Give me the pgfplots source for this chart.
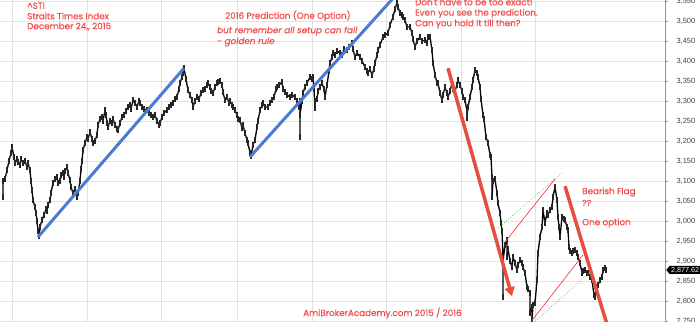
\documentclass[border=0pt]{standalone}
\usepackage{fontspec}
\setmainfont{Liberation Sans}
\newfontfamily\anno{Poppins}[FakeBold=0.35]
\usepackage{pgfplots}
\pgfplotsset{compat=1.18}
\usepackage{pgfplotstable}
\usetikzlibrary{arrows.meta,shapes.symbols,calc}
\definecolor{annored}{RGB}{240,76,76}
\definecolor{arrred}{RGB}{232,78,64}
\definecolor{trendblue}{RGB}{74,124,210}
\definecolor{gridc}{RGB}{226,226,226}
\definecolor{tickc}{RGB}{70,70,70}

\pgfplotstableread{
x y
3 3060
3 3100
5 3105
7 3127
9 3150
11 3170
12 3185
14 3160
15 3145
17 3155
18 3147
20 3140
21 3155
23 3145
25 3150
27 3135
28 3145
30 3127
31 3100
32 3077
33 3052
35 3035
36 3020
37 3000
38 2975
39 2962
40 2985
42 3002
44 3015
46 3030
47 3025
48 3040
50 3052
51 3070
53 3095
55 3105
57 3110
58 3095
60 3100
61 3115
63 3120
64 3110
65 3125
67 3135
68 3120
70 3102
71 3085
73 3070
75 3080
77 3060
78 3070
80 3100
81 3130
82 3150
83 3177
85 3195
87 3210
88 3205
90 3222
92 3205
93 3195
95 3200
97 3215
98 3240
100 3255
102 3260
103 3250
105 3277
106 3265
107 3245
108 3235
110 3250
112 3245
113 3255
115 3240
117 3230
118 3227
120 3245
122 3260
124 3265
126 3275
128 3285
130 3290
131 3280
133 3302
135 3295
137 3285
139 3300
140 3295
142 3285
144 3280
147 3277
149 3270
151 3265
153 3260
155 3265
157 3250
159 3240
160 3245
162 3260
164 3270
167 3277
169 3285
171 3290
173 3295
175 3305
177 3310
179 3330
180 3345
182 3360
183 3370
184 3382
186 3355
188 3327
190 3315
192 3302
193 3285
195 3300
197 3310
199 3305
201 3320
203 3327
205 3330
207 3340
208 3345
210 3335
211 3325
213 3320
215 3335
217 3345
218 3347
220 3350
222 3340
223 3322
225 3302
227 3310
229 3295
230 3300
232 3290
233 3285
235 3277
237 3265
238 3255
240 3252
242 3232
243 3240
245 3220
247 3202
248 3195
250 3170
251 3162
253 3190
255 3202
257 3235
258 3250
260 3277
262 3290
263 3295
265 3285
268 3285
270 3295
272 3302
274 3310
276 3330
277 3335
279 3340
282 3347
283 3330
285 3322
287 3315
290 3310
292 3315
295 3310
297 3300
299 3285
300 3300
300 3210
300 3265
302 3300
303 3320
305 3335
307 3345
310 3360
312 3355
313 3360
314 3330
315 3282
315 3300
317 3305
318 3325
320 3335
322 3345
324 3330
325 3310
327 3340
329 3375
330 3395
332 3410
333 3420
335 3415
337 3425
340 3420
342 3415
344 3430
347 3427
349 3435
352 3445
353 3430
355 3410
357 3420
360 3410
362 3400
365 3385
367 3375
368 3370
370 3380
372 3365
374 3380
375 3395
377 3415
378 3427
380 3440
383 3460
385 3465
388 3470
390 3490
393 3510
395 3530
397 3545
398 3535
400 3520
402 3515
403 3510
405 3502
407 3485
410 3485
412 3470
413 3455
415 3435
417 3450
420 3460
422 3450
425 3452
427 3445
428 3460
430 3460
432 3427
433 3395
435 3365
437 3345
438 3345
440 3320
442 3302
443 3315
445 3335
447 3320
448 3310
450 3325
452 3345
453 3330
455 3325
457 3340
458 3352
460 3340
462 3325
463 3310
465 3302
467 3275
467 3258
468 3285
470 3310
472 3335
473 3352
475 3377
477 3370
478 3360
480 3335
481 3305
483 3265
484 3255
486 3210
488 3195
490 3165
491 3160
492 3110
492 3060
493 3100
495 3105
497 3070
498 3045
500 3020
501 2995
502 2975
503 2910
503 2810
503 2900
505 2940
507 2952
507 2910
508 2930
510 2900
512 2885
513 2910
515 2895
517 2877
518 2890
520 2902
522 2895
523 2885
525 2870
527 2835
528 2830
530 2820
530 2770
532 2785
532 2752
533 2790
535 2795
537 2852
538 2920
540 2960
542 2985
543 3027
545 2995
547 3020
548 3015
550 3027
552 3035
553 3060
555 3085
557 3052
558 3010
559 2985
560 2960
562 3010
564 3005
565 3002
567 2985
568 2977
569 2935
570 2925
572 2920
573 2925
575 2927
577 2920
578 2910
580 2895
582 2870
583 2875
585 2877
587 2870
588 2870
590 2860
592 2852
594 2815
595 2810
597 2835
598 2840
600 2852
602 2860
603 2877
605 2882
606 2877.62
}\sti

\begin{document}
\begin{tikzpicture}
\begin{axis}[
  name=ax,
  scale only axis,
  width=665pt, height=321pt,
  xmin=0, xmax=665,
  ymin=2750, ymax=3552.5,
  axis y line*=right,
  axis x line*=bottom,
  x axis line style={draw=none},
  y axis line style={draw=gray!85, line width=0.8pt},
  xtick={12,87,161,237,312,386,461,535},
  xticklabels={},
  xtick style={draw=none},
  ytick={2750,2800,...,3550},
  ytick style={draw=gray!85, line width=0.6pt},
  tick align=outside,
  major tick length=3pt,
  xmajorgrids, ymajorgrids,
  grid style={gridc, line width=0.7pt},
  yticklabel style={font=\fontsize{7.5}{9}\selectfont, text=tickc, xshift=5pt},
  /pgf/number format/assume math mode=true,
  /pgf/number format/1000 sep={,},
  clip=true,
]
% price series (bar ranges)
\addplot[black, line width=1.3pt, line join=bevel,
  error bars/.cd, y dir=both, y fixed=8, error mark=none,
  error bar style={black!85, line width=1.1pt}] table[x=x, y=y] {\sti};

% blue trend lines
\addplot[trendblue, line width=3pt] coordinates {(38,2960) (184,3382)};
\addplot[trendblue, line width=3pt] coordinates {(250,3160) (396,3565)};

% red arrows
\addplot[arrred, line width=3.5pt, -{Triangle[length=9pt,width=10pt]}] coordinates {(448,3382) (512,2812)};
\addplot[arrred, line width=3.5pt] coordinates {(565,3087) (612,2700)};

% flag channel
\addplot[red!85!white, line width=0.6pt] coordinates {(505,2947.5) (555,3105)};
\addplot[red!85!white, line width=0.6pt] coordinates {(530,2745) (583,2915)};
\addplot[green!60!black!70!white, line width=0.7pt, dotted] coordinates {(498,2982.5) (562,3120)};
\addplot[green!60!black!70!white, line width=0.7pt, dotted] coordinates {(533,2745) (593,2877.5)};

% annotations
\begin{scope}[every node/.style={text=annored, inner sep=0pt, anchor=west, font=\anno\fontsize{8.8}{10}\selectfont}]
\node at (axis cs:27,3538) {\textasciicircum STI};
\node at (axis cs:27,3512.5) {Straits Times Index};
\node at (axis cs:27,3486) {December 24,, 2015};
\node at (axis cs:225,3513) {2016 Prediction (One Option)};
\node[font=\anno\itshape\fontsize{8.8}{10}\selectfont] at (axis cs:217,3475) {but remember all setup can fail};
\node[font=\anno\itshape\fontsize{8.8}{10}\selectfont] at (axis cs:217,3447.5) {- golden rule};
\node at (axis cs:415,3548) {Don't have to be too exact!};
\node at (axis cs:415,3519) {Even you see the prediction.};
\node at (axis cs:415,3492.5) {Can you hold it till then?};
\node at (axis cs:582,3072.5) {Bearish Flag};
\node at (axis cs:582,3045) {??};
\node at (axis cs:582,2995) {One option};
\node at (axis cs:303,2770) {AmiBrokerAcademy.com 2015 / 2016};
\end{scope}
\end{axis}
\node[signal, signal to=west, signal pointer angle=100, fill=black, text=white,
  inner xsep=1.5pt, inner ysep=1pt, anchor=west,
  font=\fontsize{7.2}{8}\selectfont]
  at ([xshift=1pt]$(ax.south east)!0.1590!(ax.north east)$) {2,877.62};
\pgfresetboundingbox
\path (ax.south west) rectangle ([xshift=700pt]ax.north west);
\end{tikzpicture}
\end{document}
